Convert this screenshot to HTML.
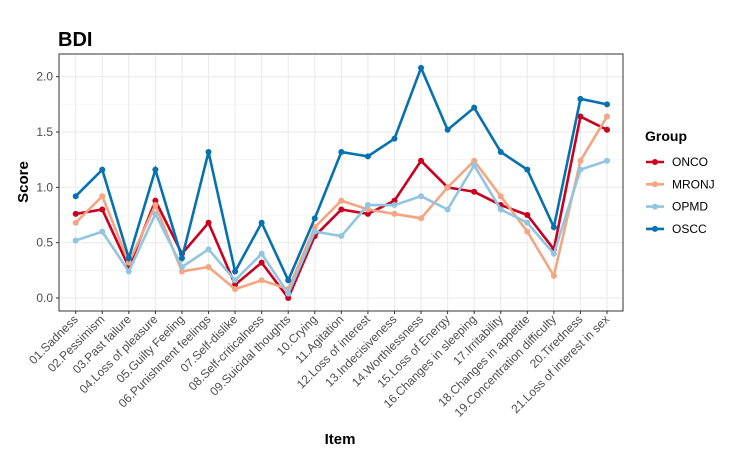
<!DOCTYPE html>
<html><head><meta charset="utf-8"><style>body{margin:0;background:#fff}svg{font-family:"Liberation Sans",sans-serif}</style></head>
<body>
<svg id="c" width="737" height="467">
<rect width="737" height="467" fill="#fff"/>
<text x="58" y="46" font-size="20" font-weight="bold" fill="#000">BDI</text>
<g id="grid"></g><g id="series"></g><g id="axes"></g>
<text x="340" y="444" font-size="15" font-weight="bold" text-anchor="middle">Item</text>
<text transform="translate(28,182) rotate(-90)" font-size="15" font-weight="bold" text-anchor="middle">Score</text>
<g id="legend"><text x="645" y="141" font-size="14" font-weight="bold">Group</text></g>
</svg>
<script>
const categories=["01.Sadness","02.Pessimism","03.Past failure","04.Loss of pleasure","05.Guilty Feeling","06.Punishment feelings","07.Self-dislike","08.Self-criticalness","09.Suicidal thoughts","10.Crying","11.Agitation","12.Loss of interest","13.Indecisiveness","14.Worthlessness","15.Loss of Energy","16.Changes in sleeping","17.Irritability","18.Changes in appetite","19.Concentration difficulty","20.Tiredness","21.Loss of interest in sex"];
const groups=["ONCO","MRONJ","OPMD","OSCC"];
const colors=["#CA0020","#F4A582","#92C5DE","#0571B0"];
const onco=[0.76,0.80,0.28,0.88,0.40,0.68,0.12,0.32,0.00,0.56,0.80,0.76,0.88,1.24,1.00,0.96,0.84,0.75,0.44,1.64,1.52];
const mronj=[0.68,0.92,0.32,0.84,0.24,0.28,0.08,0.16,0.08,0.64,0.88,0.80,0.76,0.72,1.00,1.24,0.92,0.60,0.20,1.24,1.64];
const opmd=[0.52,0.60,0.24,0.76,0.28,0.44,0.16,0.40,0.04,0.60,0.56,0.84,0.84,0.92,0.80,1.20,0.80,0.68,0.40,1.16,1.24];
const oscc=[0.92,1.16,0.36,1.16,0.36,1.32,0.24,0.68,0.16,0.72,1.32,1.28,1.44,2.08,1.52,1.72,1.32,1.16,0.64,1.80,1.75];
const yTicks=[0,0.5,1.0,1.5,2.0];
const yTickLabels=["0.0","0.5","1.0","1.5","2.0"];
const series=[onco,mronj,opmd,oscc];
const L=59,R=623,T=54,B=311;
const x=i=>75.7+i*(607-75.7)/(categories.length-1);
const y=v=>298-v*(298-76.7)/2;
const NS="http://www.w3.org/2000/svg";
function mk(t,a,p){const e=document.createElementNS(NS,t);for(const k in a)e.setAttribute(k,a[k]);p.appendChild(e);return e;}
const g=document.getElementById('grid'),s=document.getElementById('series'),ax=document.getElementById('axes'),lg=document.getElementById('legend');
for(let v=0.25;v<2.2;v+=0.5){const l=mk('line',{x1:L,x2:R,y1:y(v),y2:y(v),stroke:'#f0f0f0','stroke-width':0.6},g);}
yTicks.forEach((v,i)=>{const l=mk('line',{x1:L,x2:R,y1:y(v),y2:y(v),stroke:'#ebebeb','stroke-width':1.1},g);
const tk=mk('line',{x1:L-3,x2:L,y1:y(v),y2:y(v),stroke:'#333'},ax);
const t=mk('text',{x:L-6,y:y(v)+4,'font-size':12,'text-anchor':'end',fill:'#4d4d4d'},ax);t.textContent=yTickLabels[i];});
categories.forEach((c,i)=>{const l=mk('line',{x1:x(i),x2:x(i),y1:T,y2:B,stroke:'#ebebeb','stroke-width':1.1},g);
const tk=mk('line',{x1:x(i),x2:x(i),y1:B,y2:B+3,stroke:'#333'},ax);
const t=mk('text',{transform:`translate(${x(i)+3},${B+9}) rotate(-45)`,'font-size':12,'text-anchor':'end',fill:'#4d4d4d'},ax);t.textContent=c;});
const fr=mk('rect',{x:L,y:T,width:R-L,height:B-T,fill:'none',stroke:'#333','stroke-width':1},ax);
series.forEach((d,k)=>{const p=mk('polyline',{points:d.map((v,i)=>x(i)+','+y(v)).join(' '),fill:'none',stroke:colors[k],'stroke-width':2.6},s);
d.forEach((v,i)=>{const c=mk('circle',{cx:x(i),cy:y(v),r:3,fill:colors[k]},s);});
const ly=162+k*22.3;
const ll=mk('line',{x1:646,x2:664,y1:ly,y2:ly,stroke:colors[k],'stroke-width':2.6},lg);
const lc=mk('circle',{cx:655,cy:ly,r:3,fill:colors[k]},lg);
const lt=mk('text',{x:672,y:ly+4,'font-size':12,fill:'#000'},lg);lt.textContent=groups[k];});
</script>
</body></html>
